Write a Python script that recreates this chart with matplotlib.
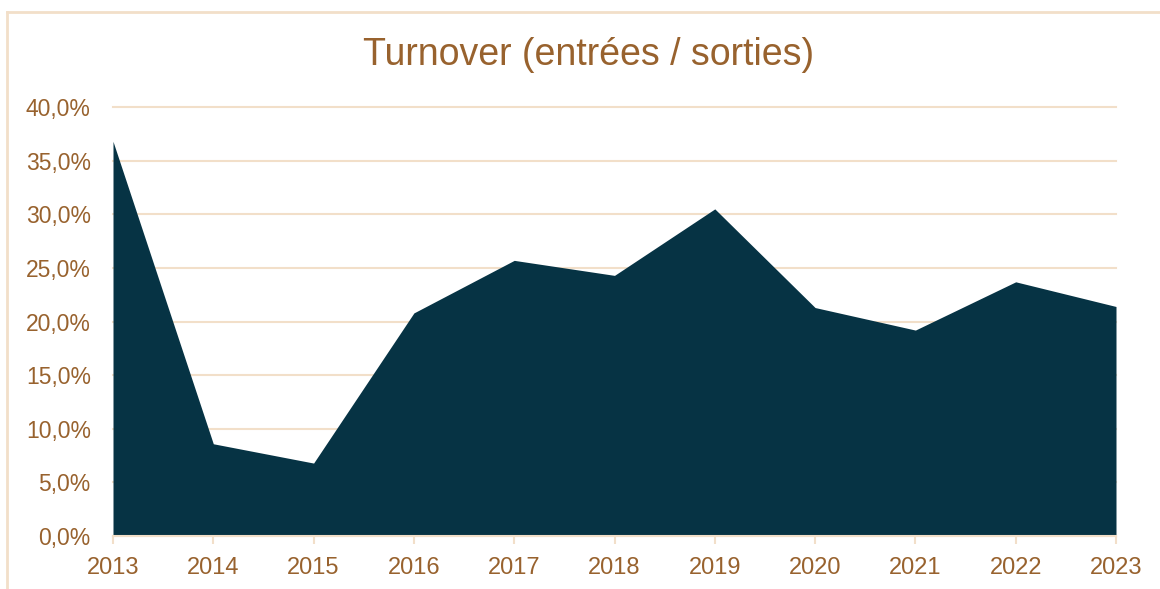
import matplotlib.pyplot as plt
from matplotlib.lines import Line2D
from matplotlib.ticker import FuncFormatter

plt.rcParams['font.family'] = ['Liberation Sans', 'DejaVu Sans']

# données
annees = ['2013', '2014', '2015', '2016', '2017', '2018', '2019', '2020', '2021', '2022', '2023']
turnover = [36.8, 8.6, 6.8, 20.8, 25.7, 24.3, 30.5, 21.3, 19.2, 23.7, 21.4]

brun = '#98622E'
beige = '#F2DFC9'
bleu = '#063344'

W, H = 1160, 589
fig = plt.figure(figsize=(W / 100, H / 100), dpi=100)
ax = fig.add_axes([113 / W, 1 - 536 / H, (1116 - 113) / W, (536 - 107) / H])

x = list(range(len(annees)))
ax.fill_between(x, turnover, 0, color=bleu, linewidth=0, zorder=2)

ax.set_xlim(0, len(annees) - 1)
ax.set_ylim(0, 40)
ax.set_yticks(range(0, 41, 5))
ax.yaxis.set_major_formatter(FuncFormatter(lambda v, p: f'{v:.1f}%'.replace('.', ',')))
ax.set_xticks(x)
ax.set_xticklabels(annees)

ax.grid(axis='y', color=beige, linewidth=1.5, zorder=1)
for gl in ax.get_ygridlines():
    gl.set_clip_on(False)
ax.set_axisbelow(True)
for s in ['top', 'right', 'left']:
    ax.spines[s].set_visible(False)
ax.spines['bottom'].set_color(beige)
ax.spines['bottom'].set_linewidth(1.5)

ax.tick_params(axis='y', length=0, pad=16, labelsize=16.5, labelcolor=brun)
ax.tick_params(axis='x', length=6, width=1.5, color=beige, pad=9, labelsize=17, labelcolor=brun)

fig.text(589 / W, 1 - 55 / H, 'Turnover (entrées / sorties)', ha='center', va='center',
         fontsize=27, color=brun)

# cadre
fig.add_artist(Line2D([7 / W, 1], [1 - 12 / H, 1 - 12 / H], color=beige, linewidth=2))
fig.add_artist(Line2D([7 / W, 7 / W], [0, 1 - 12 / H], color=beige, linewidth=2))

fig.savefig('out.png', dpi=100)
